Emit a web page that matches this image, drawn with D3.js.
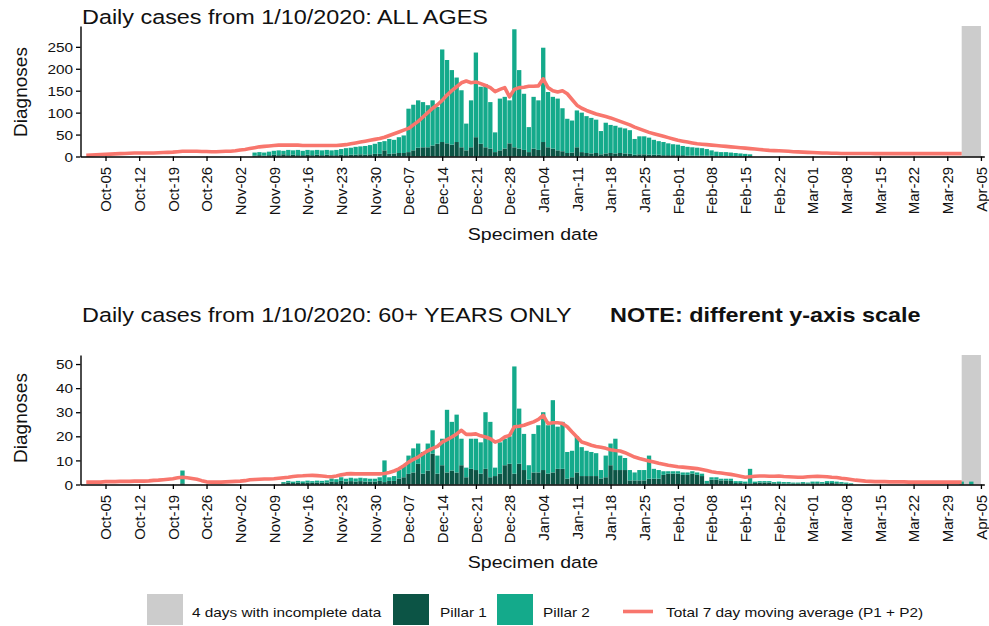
<!DOCTYPE html>
<html><head><meta charset="utf-8">
<script src="https://cdn.jsdelivr.net/npm/d3@7"></script>
<style>
body{margin:0;background:#fff}
svg{display:block}
text{font-family:"Liberation Sans",Arial,Helvetica,sans-serif;fill:#111}
</style>
</head><body>
<svg id="chart" width="989" height="626"></svg>
<script>
// ---------------- DATA ----------------
const startDate = "2020-10-01";           // first specimen date (1 Oct 2020 .. 4 Apr 2021)
const incompleteStart = "2021-04-01";
const incompleteEnd = "2021-04-05";
const tickLabels = ["Oct-05","Oct-12","Oct-19","Oct-26","Nov-02","Nov-09","Nov-16","Nov-23","Nov-30",
  "Dec-07","Dec-14","Dec-21","Dec-28","Jan-04","Jan-11","Jan-18","Jan-25","Feb-01","Feb-08","Feb-15",
  "Feb-22","Mar-01","Mar-08","Mar-15","Mar-22","Mar-29","Apr-05"];
const yTicksAll = [0,50,100,150,200,250];
const yTicks60 = [0,10,20,30,40,50];

// ALL AGES
const allP1 = [
  0,0,0,0,0,0,0,0,0,0, 0,0,0,0,0,0,0,0,0,0, 0,0,0,0,0,0,0,0,0,0, 0,
  0,0,0,0,2,3,2,3,4,3, 5,3,4,3,3,4,3,4,3,4, 3,3,4,3,4,4,5,4,5,6,
  6,14,6,7,8,8,10,14,20,21, 21,25,29,33,30,27,33,21,14,21, 44,29,21,18,10,14,18,30,21,18, 15,
  10,18,15,33,21,18,14,12,8,9, 21,10,8,7,8,5,7,8,7,8, 7,6,4,5,5,4,4,4,3,3, 3,
  3,3,2,2,2,2,2,2,1,1, 1,1,1,1,1,1,0,0,0,0, 0,0,0,0,0,0,0,0,
  0,0,0,0,0,0,0,0,0,0, 0,0,0,0,0,0,0,0,0,0, 0,0,0,0,0,0,0,0,0,0, 0,
  0,0,0,0];
const allP2 = [
  0,0,0,0,0,0,0,0,0,0, 0,0,0,0,0,0,0,0,0,0, 0,0,0,0,0,0,0,0,0,0, 0,
  0,0,0,0,7,7,7,8,9,11, 8,12,10,12,10,11,11,11,11,11, 11,12,13,16,16,18,18,20,21,23,
  27,21,34,31,36,40,99,104,108,103, 96,103,84,211,190,170,147,130,61,107, 193,130,144,106,45,118,118,98,269,179, 128,
  57,118,113,215,126,118,118,98,78,73, 84,90,84,81,76,53,70,64,63,58, 57,54,36,41,41,39,34,31,30,27, 25,
  24,21,20,19,18,17,15,12,10,9, 9,8,7,6,5,4,0,0,0,0, 0,0,0,0,0,0,0,0,
  0,0,0,0,0,0,0,0,0,0, 0,0,0,0,0,0,0,0,0,0, 0,0,0,0,0,0,0,0,0,0, 0,
  0,0,0,0];
const allMA = [
  3,3.5,4,4.5,5,5.5,6,6.5,7,7.5, 8,8,8,8,8,8.5,9,9.5,10,11, 12,12,12,12,11.5,11.5,11,11,11.5,12, 12,
  13,15,16,18,20,22,23,24,25,26, 26,26,26,26,25,25,25,25,25,25, 25,25,26,27,29,31,33,35,37,39,
  41,44,48,52,56,60,64,72,80,90, 100,110,118,128,140,150,159,168,172,168, 170,166,162,157,148,153,157,136,153,157, 158,
  160,160,161,177,157,150,147,150,143,130, 117,110,105,101,97,94,91,88,84,80, 76,72,67,63,59,55,52,49,46,43, 40,
  37,35,33,31,29,28,27,26,25,24, 23,22,21,20,19,18,17,16,15,14, 13.5,13,12.5,12,11,10.5,10,9.5,
  9,8.5,8,8,7.5,7.5,7,7,7,7, 7,7,7,6.5,6.5,6.5,6.5,6.5,6.5,6.5, 6.5,6.5,6.5,6.5,6.5,6.5,6.5,6.5,6.5,6.5, 6.5,
  6.5,null,null,null];

// 60+ YEARS ONLY
const sixP1 = [
  0,0,0,0,0,0,0,0,0,0, 0,0,0,0,0,0,0,0,0,0, 0.5,0,0,0,0,0,0,0,0,0, 0,
  0,0,0,0,0,0,0,0,0,0, 0.5,0.8,0.6,0.8,0.6,0.8,0.7,0.8,0.7,0.8, 1.2,1,1.5,1.2,1.4,1.2,1.4,1.2,1.2,1.2,
  1.5,1,1.5,1.5,2.5,3,4.4,5,8.6,4.5, 5.8,12.8,4.5,8,5,5.8,5,8,3,6.5, 6,4.5,6.5,3,3.5,4.5,8,8.6,4.5,8.6, 6,
  2,5,5,6,4.5,5,6.5,6.5,2.4,3, 5,3.5,3.5,3.5,3.5,2.5,3,8,6,6, 6,1.7,1.7,1.7,1.7,2.4,2.4,2.4,4,4.5, 4.5,
  4.5,4,4,4.5,4,3.5,0.5,2,2,1.7, 1.7,1.5,0.6,0.6,0.5,0.5,0.6,0.8,0.8,0.8, 0.5,0.5,0.4,0.4,0.4,0.4,0.5,0.4,
  0.5,0.5,0.4,0.6,0.6,0.5,0.4,0.3,0.2,0, 0,0,0,0,0,0,0,0,0,0, 0,0,0,0,0,0,0,0,0,0, 0,
  0,0,0,0];
const sixP2 = [
  0,0,0,0,0,0,0,0,0,0, 0,0,0,0,0,0,0,0,0,0, 5.3,0,0,0,0,0,0,0,0,0, 0,
  0,0,0,0,0,0,0,0,0,0, 0.5,0.7,0.6,0.7,0.7,0.8,0.7,0.8,0.8,0.9, 1.3,1.2,1.5,1.2,1.4,1.3,1.4,1.4,1.2,1.2,
  1.5,9,1.5,2,3.5,5,7.6,10,8.4,9, 11.2,9.7,7.5,11,26,20.2,24,11,4,12.5, 13,13,23.5,23,3.5,13,11,11.4,44.5,22.9, 15,
  6,16,19.6,24,20.1,30,17.5,19.5,11.1,11, 15,12,10.5,10,9.5,3.5,9,9,13,6, 5,4.3,3.3,4.3,4.3,9.6,4.1,3.6,1.5,1, 1,
  1,1,1,1,1,1,1,1,1,0.7, 0.7,0.9,0.8,0.8,0.7,6,0.6,0.6,0.6,0.6, 0.5,0.7,0.6,0.6,0.4,0.4,0.5,0.4,
  0.7,0.7,0.6,0.8,0.8,0.7,0.6,0.5,0.3,0, 0,0,0,0,0,0,0,0,0,0, 0,0,0,0,0,0,0,0,0,0, 0,
  1.2,0,1.2,0];
const sixMA = [
  1,1,1,1,1.2,1.2,1.2,1.3,1.3,1.3, 1.4,1.4,1.4,1.5,1.7,1.8,2,2.2,2.4,2.8, 3,2.8,2.5,2.2,1.6,1.1,1,1,1,1.1, 1.2,
  1.3,1.4,1.6,2,2.1,2.2,2.3,2.3,2.4,2.6, 2.8,3,3.3,3.5,3.6,3.75,3.8,3.7,3.5,3.3, 3.2,3.5,4,4.4,4.5,4.4,4.4,4.4,4.4,4.4,
  4.4,4.6,5,5.6,6.5,7.8,9.3,10.4,11.4,12.8, 14,15,15.8,17.6,18.6,19.7,21,22.5,20.8,20.8, 21,20.2,19.7,19,17.6,18.3,19.7,20.4,24,24.2, 24.6,
  25.3,26,27,28.7,25.3,25.6,25.6,25.3,24,21.8, 19.7,17.6,17,16.3,15.8,15.5,15,14.4,14.1,13.9, 13.2,12.3,11.4,10.8,10.3,9.8,9.3,8.8,8.4,8, 7.7,
  7.4,7.2,7,6.8,6.6,6.2,5.8,5.3,5,4.8, 4.5,4.2,3.8,3.4,3,3.2,3.4,3.5,3.5,3.4, 3.4,3.5,3.3,3.2,3.1,3,3,3.2,
  3.3,3.4,3.3,3.2,3,2.9,2.6,2.4,2.1,1.8, 1.6,1.4,1.3,1.2,1.2,1.2,1.1,1.1,1.1,1.1, 1,1,1,1,1,1,1,1,1,1, 1,
  1,null,null,null];

const legendLabels = ["4 days with incomplete data","Pillar 1","Pillar 2","Total 7 day moving average (P1 + P2)"];
const titles = ["Daily cases from 1/10/2020: ALL AGES","Daily cases from 1/10/2020: 60+ YEARS ONLY"];
const noteText = "NOTE: different y-axis scale";

// ---------------- STYLE ----------------
const C_P1 = "#0c5445", C_P2 = "#14aa8b", C_MA = "#f8766d", C_GREY = "#cccccc";
const SX = 1.2; // horizontal stretch of horizontal text in the reference

const svg = d3.select("#chart");
const parse = d3.utcParse("%Y-%m-%d");
const start = parse(startDate);
const DAY = 864e5;
const days = d3.utcDay.range(start, d3.utcDay.offset(start, allP1.length));
const monIdx = {Jan:0,Feb:1,Mar:2,Apr:3,Oct:9,Nov:10,Dec:11};
const tickDates = tickLabels.map(s => { const [m,d] = s.split("-"); const mi = monIdx[m];
  return new Date(Date.UTC(mi >= 9 ? 2020 : 2021, mi, +d)); });

const x = d3.scaleUtc()
  .domain([new Date(+start - 1.2*DAY), new Date(+start + 186.7*DAY)])
  .range([80.5, 984.3]);
const bw = (x(new Date(+start + DAY)) - x(start)) * 0.9;

function stretchedText(g, str, px, py, opts) {
  const t = g.append("text")
    .attr("transform", `translate(${px},${py}) scale(${SX},1)`)
    .attr("text-anchor", opts.anchor || "start")
    .style("font-size", opts.size + "px")
    .text(str);
  if (opts.bold) t.style("font-weight", "bold");
  if (opts.dy) t.attr("dy", opts.dy);
  return t;
}

function panel(cfg) {
  const g = svg.append("g");
  const y = d3.scaleLinear().domain([0, cfg.ymax]).range([cfg.y0, cfg.y1]);

  // incomplete-data band
  g.append("rect")
    .attr("x", x(parse(incompleteStart)))
    .attr("width", x(parse(incompleteEnd)) - x(parse(incompleteStart)))
    .attr("y", y(cfg.ymax)).attr("height", y(0) - y(cfg.ymax))
    .attr("fill", C_GREY);

  const data = days.map((d,i) => ({d, p1: cfg.p1[i], p2: cfg.p2[i], ma: cfg.ma[i]}));

  // pillar 1 (bottom)
  g.append("g").selectAll("rect").data(data.filter(r => r.p1 > 0)).join("rect")
    .attr("x", r => x(r.d) - bw/2).attr("width", bw)
    .attr("y", r => y(r.p1)).attr("height", r => y(0) - y(r.p1))
    .attr("fill", C_P1);
  // pillar 2 (stacked)
  g.append("g").selectAll("rect").data(data.filter(r => r.p2 > 0)).join("rect")
    .attr("x", r => x(r.d) - bw/2).attr("width", bw)
    .attr("y", r => y(r.p1 + r.p2)).attr("height", r => y(r.p1) - y(r.p1 + r.p2))
    .attr("fill", C_P2);

  // moving average
  const line = d3.line().defined(r => r.ma != null).x(r => x(r.d)).y(r => y(r.ma)).curve(d3.curveLinear);
  g.append("path").datum(data).attr("d", line)
    .attr("fill", "none").attr("stroke", C_MA).attr("stroke-width", 3.6)
    .attr("stroke-linejoin", "round").attr("stroke-linecap", "butt");

  // x axis
  const xa = g.append("g").attr("transform", `translate(0,${cfg.y0})`)
    .call(d3.axisBottom(x).tickValues(tickDates).tickFormat((d,i) => tickLabels[i]).tickSize(4.5).tickSizeOuter(0));
  xa.select(".domain").attr("stroke", "#000").attr("stroke-width", 1.4);
  xa.selectAll(".tick line").attr("stroke", "#000").attr("stroke-width", 1.3);
  xa.selectAll(".tick text")
    .attr("transform", "rotate(-90)")
    .attr("x", -10.3).attr("y", 5.4).attr("dy", 0)
    .attr("text-anchor", "end")
    .style("font-size", "15px").style("font-family", '"Liberation Sans",Arial,sans-serif')
    .attr("fill", "#1a1a1a");

  // y axis
  const ya = g.append("g").attr("transform", `translate(80.5,0)`)
    .call(d3.axisLeft(y).tickValues(cfg.ticks).tickSize(4.5).tickSizeOuter(0));
  ya.select(".domain").attr("stroke", "#000").attr("stroke-width", 1.4);
  ya.selectAll(".tick line").attr("stroke", "#000").attr("stroke-width", 1.3);
  ya.selectAll(".tick text")
    .attr("x", null).attr("dy", "0.36em")
    .attr("transform", `translate(-7.5,0) scale(${SX},1)`)
    .attr("text-anchor", "end")
    .style("font-size", "12.8px").style("font-family", '"Liberation Sans",Arial,sans-serif')
    .attr("fill", "#1a1a1a");

  // titles
  stretchedText(g, cfg.title, 82, cfg.titleY, {size: 19.5});
  if (cfg.note) stretchedText(g, cfg.note, 610, cfg.titleY, {size: 19.5, bold: true});
  stretchedText(g, "Specimen date", 533, cfg.xTitleY, {size: 16.3, anchor: "middle"});
  g.append("text")
    .attr("transform", `translate(26.5,${cfg.yTitleY}) rotate(-90)`)
    .attr("text-anchor", "middle").style("font-size", "19px").text("Diagnoses");
}

panel({p1: allP1, p2: allP2, ma: allMA, ymax: 297.5, y0: 156.5, y1: 26, ticks: yTicksAll,
  title: titles[0], titleY: 24, xTitleY: 239.5, yTitleY: 92});
panel({p1: sixP1, p2: sixP2, ma: sixMA, ymax: 53.75, y0: 484.5, y1: 355, ticks: yTicks60,
  title: titles[1], note: noteText, titleY: 322, xTitleY: 567.5, yTitleY: 418});

// ---------------- LEGEND ----------------
const lg = svg.append("g");
const keyY = 594, keyH = 31, keyW = 36, txtY = 616.5, txtSize = 12.8;
lg.append("rect").attr("x", 147).attr("y", keyY).attr("width", keyW).attr("height", keyH).attr("fill", C_GREY);
stretchedText(lg, legendLabels[0], 192, txtY, {size: txtSize});
lg.append("rect").attr("x", 393).attr("y", keyY).attr("width", keyW).attr("height", keyH).attr("fill", C_P1);
stretchedText(lg, legendLabels[1], 440, txtY, {size: txtSize});
lg.append("rect").attr("x", 497).attr("y", keyY).attr("width", keyW).attr("height", keyH).attr("fill", C_P2);
stretchedText(lg, legendLabels[2], 543, txtY, {size: txtSize});
lg.append("line").attr("x1", 623).attr("x2", 653).attr("y1", 611.5).attr("y2", 611.5)
  .attr("stroke", C_MA).attr("stroke-width", 3.6);
stretchedText(lg, legendLabels[3], 666, txtY, {size: txtSize});
</script>
</body></html>
